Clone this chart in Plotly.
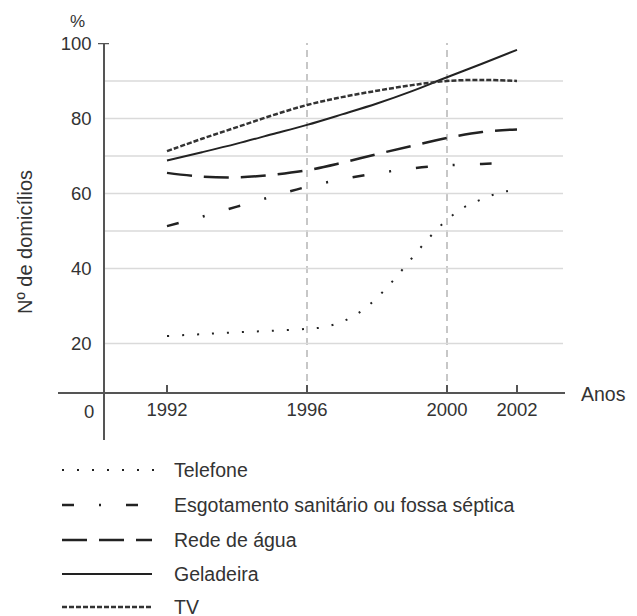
import plotly.graph_objects as go

years = [1992, 1993, 1994, 1995, 1996, 1997, 1998, 1999, 2000, 2001, 2002]
tv = [71.3, 74.6, 77.7, 80.8, 83.6, 85.7, 87.4, 88.9, 90.0, 90.3, 90.0]
geladeira = [68.8, 71.0, 73.3, 75.8, 78.3, 81.1, 84.0, 87.3, 91.0, 94.6, 98.3]
rede_agua = [65.5, 64.5, 64.3, 65.0, 66.2, 68.2, 70.5, 72.7, 74.8, 76.4, 77.1]

esg_years = [1992, 1993, 1994, 1995, 1996, 1997, 1998, 1999, 2000, 2001, 2001.4]
esgotamento = [51.3, 53.8, 56.5, 59.2, 61.8, 63.8, 65.4, 66.7, 67.5, 67.9, 68.0]

tel_years = [1992, 1993, 1994, 1995, 1996, 1996.5, 1997, 1997.5, 1998, 1998.5,
             1999, 1999.5, 2000, 2000.5, 2001, 2001.5, 2002]
telefone = [22.0, 22.5, 23.0, 23.4, 23.9, 24.4, 25.8, 28.3, 32.2, 37.2,
            42.8, 48.3, 53.0, 56.4, 58.5, 60.2, 61.0]

x_ticks = [1992, 1996, 2000, 2002]
y_ticks = [20, 40, 60, 80, 100]
grid_vals = [20, 40, 50, 60, 70, 80, 90]
ref_years = [1996, 2000]

series = [
    ("Telefone", tel_years, telefone, dict(color="#222", width=2, dash="2px,13px")),
    ("Esgotamento sanitário ou fossa séptica", esg_years, esgotamento,
     dict(color="#222", width=2.5, dash="12px,25px,2px,25px")),
    ("Rede de água", years, rede_agua, dict(color="#222", width=2.5, dash="25px,12px")),
    ("Geladeira", years, geladeira, dict(color="#222", width=2)),
    ("TV", years, tv, dict(color="#333", width=2.5, dash="5px,2px")),
]

FONT = "Liberation Sans, Arial, sans-serif"
TXT = "#333"

W, H = 637, 616
L, R, T, B = 58, 565, 43, 440
pw, ph = R - L, B - T

def px(xp):
    return (xp - L) / pw

def py(yp):
    return (B - yp) / ph

x_range = [1992 - (167 - L) / 35.0, 1992 + (R - 167) / 35.0]
y_per_px = 20 / 75.0
y_range = [100 - (B - 43.5) * y_per_px, 100 + (43.5 - T) * y_per_px]

fig = go.Figure()
for name, xs, ys, ln in series:
    ln = dict(ln)
    ln["shape"] = "spline"
    fig.add_trace(go.Scatter(x=xs, y=ys, mode="lines", name=name, line=ln,
                             showlegend=False, hoverinfo="skip"))

xaxis_pos = py(393)
yaxis_pos = px(104)

shapes = []
x_grid0 = x_range[0] + yaxis_pos * (x_range[1] - x_range[0])
x_grid1 = 1992 + (563 - 167) / 35.0
for g in grid_vals:
    shapes.append(dict(type="line", xref="x", yref="y", x0=x_grid0, x1=x_grid1, y0=g, y1=g,
                       line=dict(color="#dadada", width=1.6), layer="below"))
for yr in ref_years:
    shapes.append(dict(type="line", xref="x", yref="paper", x0=yr, x1=yr, y0=xaxis_pos, y1=1,
                       line=dict(color="#aaaaaa", width=1.3, dash="7px,5px"), layer="below"))
# tick at 100
shapes.append(dict(type="line", xref="paper", yref="y", x0=px(98), x1=px(109), y0=100, y1=100,
                   line=dict(color="#555", width=1.5)))

def ann(text, x, y, size, xanchor="center", angle=0):
    return dict(text=text, x=px(x), y=py(y), xref="paper", yref="paper",
                xanchor=xanchor, yanchor="middle", textangle=angle, showarrow=False,
                font=dict(size=size, color=TXT, family=FONT))

annotations = [
    ann("0", 89, 411, 18.5),
    ann("Anos", 579, 394, 19.5, xanchor="left"),
    ann("%", 77, 21, 17),
    ann("Nº de domicílios", 25, 242, 20, angle=-90),
]

leg_rows = [470, 505, 540, 574, 607]
leg_x1 = [154, 140, 152, 152, 152]
for (name, xs, ys, ln), ry, x1 in zip(series, leg_rows, leg_x1):
    shapes.append(dict(type="line", xref="paper", yref="paper", x0=px(62), x1=px(x1),
                       y0=py(ry), y1=py(ry), line=ln))
    annotations.append(ann(name, 172, ry, 19.5, xanchor="left"))

fig.update_layout(
    width=W, height=H,
    margin=dict(l=L, r=W - R, t=T, b=H - B, pad=0),
    paper_bgcolor="white", plot_bgcolor="white",
    font=dict(family=FONT, color=TXT),
    xaxis=dict(range=x_range, anchor="free", position=xaxis_pos, showline=True,
               linecolor="#555", linewidth=1.5, ticks="inside", ticklen=7,
               tickcolor="#555", tickwidth=1.5,
               tickvals=x_ticks, ticktext=[str(v) for v in x_ticks],
               showgrid=False, zeroline=False, fixedrange=True,
               tickfont=dict(size=18.5, color=TXT, family=FONT)),
    yaxis=dict(range=y_range, anchor="free", position=yaxis_pos, showline=True,
               linecolor="#555", linewidth=1.5, ticks="",
               tickvals=y_ticks, ticktext=[str(v) for v in y_ticks],
               showgrid=False, zeroline=False, fixedrange=True, ticklabelstandoff=8,
               tickfont=dict(size=18.5, color=TXT, family=FONT)),
    shapes=shapes,
    annotations=annotations,
    showlegend=False,
)

fig.write_html("out.html", config={"displayModeBar": False},
               post_script="document.body.style.margin='0px';document.body.style.overflow='hidden';")
